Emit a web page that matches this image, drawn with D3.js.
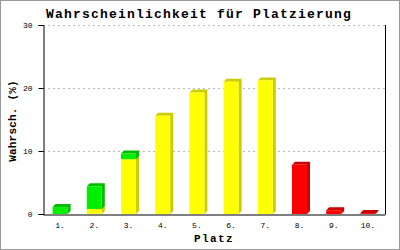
<!DOCTYPE html>
<html>
<head>
  <meta charset="utf-8">
  <script src="https://d3js.org/d3.v7.min.js"></script>
  <style>
    body { margin: 0; background: #fff; }
    text { font-family: "Liberation Mono", "DejaVu Sans Mono", monospace; }
  </style>
</head>
<body>
<script>
  // data
  var categories = ["1.", "2.", "3.", "4.", "5.", "6.", "7.", "8.", "9.", "10."];
  var yellowVals = [0, 0.8, 8.7, 15.6, 19.3, 21.0, 21.2, 0, 0, 0];
  var greenVals  = [1.1, 3.6, 0.9, 0, 0, 0, 0, 0, 0, 0];
  var redVals    = [0, 0, 0, 0, 0, 0, 0, 7.8, 0.6, 0.15];
  var yTicks = [0, 10, 20, 30];

  var W = 400, H = 250;
  // plot box ("top" is taken by window.top, so prefix them)
  var plotLeft = 43, plotRight = 385, plotTop = 25, plotBottom = 214;
  var barW = 15, depth = 3;

  var svg = d3.select("body").append("svg")
    .attr("width", W).attr("height", H);

  // outer frame
  svg.append("rect")
    .attr("x", 0.5).attr("y", 0.5)
    .attr("width", W - 1).attr("height", H - 1)
    .attr("fill", "#fff").attr("stroke", "#999");

  var x = d3.scaleBand().domain(categories).range([plotLeft, plotRight]);
  var y = d3.scaleLinear().domain([0, 30]).range([plotBottom, plotTop]);

  // grid lines
  svg.selectAll("line.grid")
    .data(yTicks.filter(function(t){ return t > 0; }))
    .enter().append("line")
    .attr("class", "grid")
    .attr("x1", plotLeft).attr("x2", plotRight)
    .attr("y1", function(d){ return Math.round(y(d)) + 0.5; })
    .attr("y2", function(d){ return Math.round(y(d)) + 0.5; })
    .attr("stroke", "#bbb")
    .attr("stroke-dasharray", "2,3");

  // build the segments: yellow at the bottom, green on top, red alone
  var segs = [];
  categories.forEach(function(c, i){
    var base = 0;
    [[yellowVals[i], "#ffff00", "#cccc00"],
     [greenVals[i],  "#00ee00", "#00bb00"],
     [redVals[i],    "#ff0000", "#cc0000"]].forEach(function(s){
      if (s[0] > 0) {
        segs.push({cat: c, y0: base, y1: base + s[0], front: s[1], side: s[2]});
        base += s[0];
      }
    });
  });

  var g = svg.append("g");
  var bars = g.selectAll("g.bar").data(segs).enter().append("g").attr("class", "bar");

  bars.append("polygon")
    .attr("points", function(d){
      var x0 = x(d.cat) + (x.bandwidth() - barW) / 2;
      var yt = y(d.y1), yb = y(d.y0);
      return [[x0, yt], [x0 + depth, yt - depth], [x0 + barW + depth, yt - depth],
              [x0 + barW + depth, yb - depth], [x0 + barW, yb], [x0 + barW, yt]].join(" ");
    })
    .attr("fill", function(d){ return d.side; });

  bars.append("rect")
    .attr("x", function(d){ return x(d.cat) + (x.bandwidth() - barW) / 2; })
    .attr("y", function(d){ return y(d.y1); })
    .attr("width", barW)
    .attr("height", function(d){ return y(d.y0) - y(d.y1); })
    .attr("fill", function(d){ return d.front; });

  // axes
  var yAxis = d3.axisLeft(y).tickValues(yTicks).tickSize(5).tickPadding(6);
  var ya = svg.append("g").attr("transform", "translate(" + (plotLeft + 0.5) + ",0)").call(yAxis);
  ya.select(".domain").attr("stroke", "#000");
  ya.selectAll("text").attr("font-size", 8).attr("font-family", "Liberation Mono, monospace");

  var xAxis = d3.axisBottom(x).tickSize(0).tickPadding(8);
  var xa = svg.append("g").attr("transform", "translate(0," + (plotBottom + 0.5) + ")").call(xAxis);
  xa.select(".domain").attr("stroke", "#000");
  xa.selectAll("text").attr("font-size", 8).attr("font-family", "Liberation Mono, monospace");

  // right border line of the plot
  svg.append("line")
    .attr("x1", plotRight + 0.5).attr("x2", plotRight + 0.5)
    .attr("y1", plotTop).attr("y2", plotBottom + 0.5)
    .attr("stroke", "#000");

  // titles
  svg.append("text")
    .attr("x", 199).attr("y", 18)
    .attr("text-anchor", "middle")
    .attr("font-size", 13).attr("font-weight", "bold")
    .attr("letter-spacing", 1.2)
    .text("Wahrscheinlichkeit für Platzierung");

  svg.append("text")
    .attr("x", 214).attr("y", 242)
    .attr("text-anchor", "middle")
    .attr("font-size", 11).attr("font-weight", "bold")
    .attr("letter-spacing", 1.4)
    .text("Platz");

  svg.append("text")
    .attr("transform", "translate(16,121) rotate(-90)")
    .attr("text-anchor", "middle")
    .attr("font-size", 11).attr("font-weight", "bold")
    .attr("letter-spacing", 0.2)
    .text("Wahrsch. (%)");
</script>
</body>
</html>
